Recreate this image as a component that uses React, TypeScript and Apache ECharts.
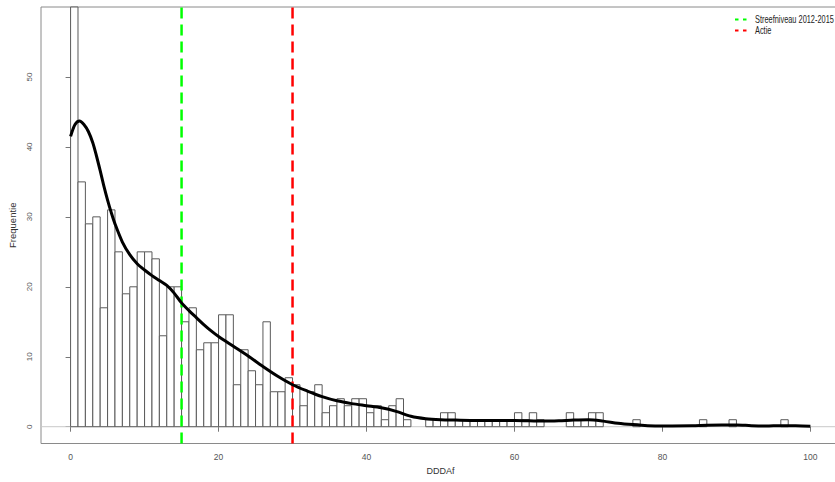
import React, { useEffect, useRef } from "react";
import * as echarts from "echarts";

// Histogram counts, bin i covers [i, i+1)
const COUNTS: number[] = [
  68, 35, 29, 30, 17, 31, 25, 19, 20, 25,
  25, 24, 13, 20, 20, 15, 17, 11, 12, 12,
  16, 16, 6, 11, 8, 6, 15, 5, 5, 7,
  6, 3, 5, 6, 2, 3, 4, 3, 4, 4,
  2, 3, 1, 3, 4, 1, 0, 0, 1, 1,
  2, 2, 1, 1, 1, 1, 1, 1, 1, 1,
  2, 1, 2, 1, 0, 0, 0, 2, 1, 1,
  2, 2, 0, 0, 0, 0, 1, 0, 0, 0,
  0, 0, 0, 0, 0, 1, 0, 0, 0, 1,
  0, 0, 0, 0, 0, 0, 1, 0, 0, 0,
];
const BIN_WIDTH = 1;

// Density curve (scaled to counts)
const DENS_X: number[] = [
  0, 0.6, 1.2, 1.8, 2.4, 3, 3.5, 4, 4.5, 5, 5.5, 6, 7, 8, 9, 10, 11, 12, 13, 14, 15, 16, 17, 18, 19, 20,
  22, 24, 26, 28, 30, 32, 34, 36, 38, 40, 42, 44, 46, 48, 50, 52, 55, 58, 60, 62,
  64, 66, 68, 70, 72, 74, 76, 78, 80, 84, 86, 88, 90, 92, 94, 96, 98, 100,
];
const DENS_Y: number[] = [
  41.5, 43.2, 43.7, 43.2, 42.2, 40.6, 38.7, 36.6, 34.4, 32.4, 30.6, 29.0, 26.4, 24.6, 23.3, 22.4, 21.6, 20.9, 20.2, 19.1, 17.7, 16.6, 15.6, 14.6, 13.7, 12.9,
  11.5, 10.1, 8.6, 7.2, 6.0, 5.1, 4.3, 3.7, 3.3, 3.0, 2.7, 2.2, 1.5, 1.15, 1.0, 0.95, 0.9, 0.9, 0.9, 0.85,
  0.8, 0.85, 0.95, 1.0, 0.8, 0.5, 0.3, 0.15, 0.1, 0.12, 0.22, 0.25, 0.25, 0.15, 0.1, 0.15, 0.12, 0.05,
];

const STREEF = 15;
const ACTIE = 30;

const X_TICKS = [0, 20, 40, 60, 80, 100];
const Y_TICKS = [0, 10, 20, 30, 40, 50];
const X_MIN = -4;
const X_MAX = 104;
const Y_MIN = -2.4;
const Y_MAX = 60;

const FONT = "Liberation Sans, Arial, sans-serif";

export default function App() {
  const ref = useRef<HTMLDivElement>(null);
  useEffect(() => {
    if (!ref.current) return;
    const chart = echarts.init(ref.current, undefined, { renderer: "svg" });
    const histData = COUNTS.map((c, i) => [i * BIN_WIDTH, c]).filter((d) => d[1] > 0);
    const densData = DENS_X.map((x, i) => [x, DENS_Y[i]]);
    chart.setOption({
      animation: false,
      backgroundColor: "#ffffff",
      grid: {
        left: 41,
        top: 7,
        width: 799,
        height: 436.5,
        show: true,
        borderColor: "#8a8a8a",
        borderWidth: 1,
        backgroundColor: "transparent",
        containLabel: false,
        outerBoundsMode: "none",
      },
      xAxis: {
        type: "value",
        min: X_MIN,
        max: X_MAX,
        name: "DDDAf",
        nameLocation: "middle",
        nameGap: 18,
        nameTextStyle: { fontSize: 9, color: "#333", fontFamily: FONT },
        axisLine: { show: false },
        splitLine: { show: false },
        axisTick: { show: true, customValues: X_TICKS, length: 5, lineStyle: { color: "#777" } },
        axisLabel: { customValues: X_TICKS, fontSize: 8.5, color: "#555", margin: 9, fontFamily: FONT },
      },
      yAxis: {
        type: "value",
        min: Y_MIN,
        max: Y_MAX,
        name: "Frequentie",
        nameLocation: "middle",
        nameRotate: 90,
        nameGap: 22,
        nameTextStyle: { fontSize: 9.5, color: "#333", fontFamily: FONT },
        axisLine: { show: false },
        splitLine: { show: false },
        axisTick: { show: true, customValues: Y_TICKS, length: 5, lineStyle: { color: "#777" } },
        axisLabel: { customValues: Y_TICKS, fontSize: 8, color: "#555", margin: 8, rotate: 90, fontFamily: FONT },
      },
      graphic: [
        {
          type: "line",
          shape: { x1: 735, y1: 19.5, x2: 748, y2: 19.5 },
          style: { stroke: "#00ff00", lineWidth: 2, lineDash: [3.5, 4.5] },
        },
        {
          type: "text",
          x: 755,
          y: 19.5,
          scaleX: 0.74,
          style: { text: "Streefniveau 2012-2015", fontSize: 10, fill: "#222", verticalAlign: "middle", fontFamily: FONT },
        },
        {
          type: "line",
          shape: { x1: 735, y1: 30.5, x2: 748, y2: 30.5 },
          style: { stroke: "#ff0000", lineWidth: 2, lineDash: [3.5, 4.5] },
        },
        {
          type: "text",
          x: 755,
          y: 30.5,
          scaleX: 0.74,
          style: { text: "Actie", fontSize: 10, fill: "#222", verticalAlign: "middle", fontFamily: FONT },
        },
      ],
      series: [
        {
          type: "line",
          name: "baseline",
          data: [[X_MIN, 0], [X_MAX, 0]],
          showSymbol: false,
          lineStyle: { color: "#c8c8c8", width: 1 },
          silent: true,
          z: 1,
        },
        {
          type: "custom",
          name: "DDDAf",
          data: histData,
          encode: { x: 0, y: 1 },
          z: 2,
          renderItem: (params: any, api: any) => {
            const x0 = api.value(0);
            const h = api.value(1);
            const p0 = api.coord([x0, 0]);
            const p1 = api.coord([x0 + BIN_WIDTH, h]);
            const cs = params.coordSys;
            const shape = echarts.graphic.clipRectByRect(
              { x: p0[0], y: p1[1], width: p1[0] - p0[0], height: p0[1] - p1[1] },
              { x: cs.x, y: cs.y, width: cs.width, height: cs.height }
            );
            if (!shape) return null;
            return {
              type: "rect",
              shape,
              style: { fill: "#ffffff", stroke: "#5a5a5a", lineWidth: 1 },
            };
          },
        },
        {
          type: "line",
          name: "Streefniveau 2012-2015",
          data: [[STREEF, Y_MIN], [STREEF, Y_MAX]],
          showSymbol: false,
          lineStyle: { color: "#00ff00", width: 2.5, type: [11, 6] },
          z: 3,
        },
        {
          type: "line",
          name: "Actie",
          data: [[ACTIE, Y_MIN], [ACTIE, Y_MAX]],
          showSymbol: false,
          lineStyle: { color: "#ff0000", width: 2.5, type: [11, 6] },
          z: 3,
        },
        {
          type: "line",
          name: "density",
          data: densData,
          showSymbol: false,
          smooth: 0.3,
          lineStyle: { color: "#000000", width: 3 },
          z: 4,
        },
      ],
    });
    return () => chart.dispose();
  }, []);
  return (
    <div style={{ position: "fixed", left: 0, top: 0, width: 835, height: 482, overflow: "hidden", background: "#fff" }}>
      <div ref={ref} style={{ width: 880, height: 482 }} />
    </div>
  );
}
